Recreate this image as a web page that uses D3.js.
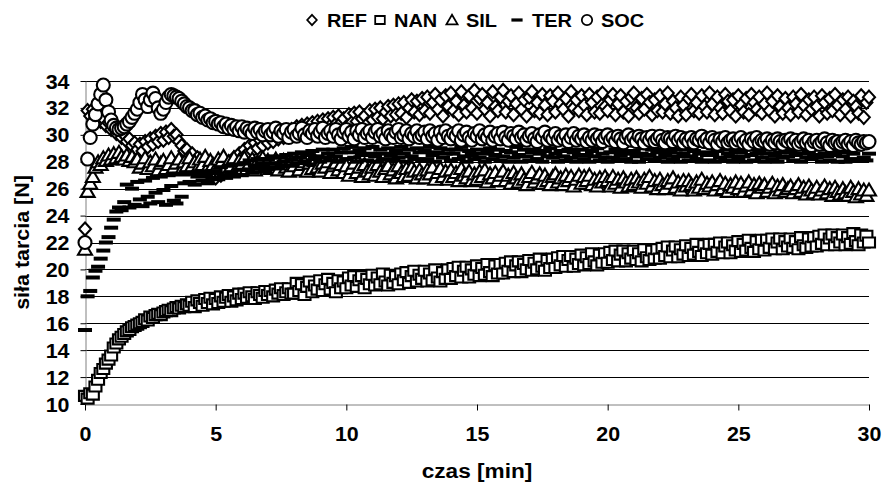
<!DOCTYPE html>
<html>
<head>
<meta charset="utf-8">
<script src="https://cdn.jsdelivr.net/npm/d3@7"></script>
<style>
  body { margin: 0; background: #fff; }
  svg { display: block; }
  text { font-family: "Liberation Sans", Arial, sans-serif; font-weight: bold; fill: #000; }
</style>
</head>
<body>
<svg id="chart"></svg>
<script>
// Friction force vs time, five samples, one reading every 0.1 min (0..30 min).
// Values, one row per minute.

const T_STEP = 0.1; // min between readings

const REF = [
  23.0, 31.8, 31.4, 31.9, 31.3, 31.6, 31.0, 31.2, 30.7, 30.9,
  30.4, 30.6, 30.1, 30.3, 29.8, 30.0, 29.5, 29.7, 29.2, 29.4,
  28.9, 29.3, 28.8, 29.5, 29.1, 29.7, 29.3, 29.9, 29.5, 30.1,
  29.6, 30.2, 29.8, 30.4, 29.9, 30.0, 29.5, 29.2, 28.8, 28.9,
  28.4, 28.6, 28.0, 28.3, 27.6, 27.9, 27.3, 27.6, 27.0, 27.2,
  26.8, 27.4, 27.0, 27.7, 27.3, 28.0, 27.6, 28.3, 28.0, 28.6,
  28.3, 28.9, 28.6, 29.2, 28.8, 29.4, 29.0, 29.6, 29.2, 29.8,
  29.4, 29.9, 29.5, 30.1, 29.7, 30.2, 29.8, 30.3, 29.9, 30.4,
  30.0, 30.6, 30.1, 30.7, 30.2, 30.8, 30.3, 30.9, 30.4, 31.0,
  30.5, 31.1, 30.6, 31.2, 30.7, 31.3, 30.8, 31.4, 30.9, 31.2,
  30.6, 31.5, 30.9, 31.6, 31.0, 31.7, 31.2, 31.4, 30.8, 31.8,
  31.1, 31.9, 31.3, 32.0, 31.2, 31.7, 32.1, 31.4, 32.2, 31.5,
  32.3, 31.6, 32.4, 31.3, 32.0, 32.6, 31.7, 32.5, 31.5, 32.7,
  31.8, 32.8, 31.6, 32.4, 33.0, 31.9, 32.6, 31.4, 32.9, 32.1,
  33.1, 31.8, 32.5, 31.5, 33.2, 32.2, 31.7, 32.9, 32.0, 33.3,
  31.6, 32.7, 33.0, 31.9, 32.4, 31.4, 33.2, 32.1, 31.8, 32.8,
  33.3, 31.7, 32.5, 32.9, 31.5, 32.3, 33.1, 31.9, 32.6, 31.4,
  32.8, 33.2, 31.8, 32.4, 31.6, 33.0, 32.2, 31.5, 32.9, 32.5,
  31.7, 33.1, 32.3, 31.9, 32.7, 31.4, 33.2, 32.0, 32.6, 31.8,
  32.9, 32.2, 31.5, 33.0, 32.4, 31.7, 32.8, 31.6, 33.1, 32.1,
  31.8, 32.6, 33.0, 31.5, 32.3, 32.9, 31.7, 32.5, 31.4, 32.8,
  33.1, 32.0, 31.6, 32.7, 31.9, 33.0, 32.4, 31.5, 32.6, 31.8,
  32.9, 31.7, 32.3, 33.1, 31.6, 32.5, 32.0, 31.4, 32.8, 32.2,
  31.5, 32.7, 33.0, 31.8, 32.4, 31.6, 32.9, 32.1, 31.7, 33.1,
  32.3, 31.5, 32.8, 32.0, 31.6, 33.0, 32.5, 31.8, 32.6, 31.4,
  32.9, 32.2, 31.7, 32.7, 31.5, 33.0, 32.4, 31.9, 32.8, 31.6,
  32.3, 33.1, 31.8, 32.5, 31.4, 32.9, 32.1, 31.6, 32.7, 32.0,
  31.5, 32.8, 32.3, 31.7, 33.0, 32.2, 31.5, 32.6, 31.9, 32.8,
  32.1, 31.4, 32.9, 32.4, 31.6, 32.7, 31.8, 33.0, 32.2, 31.5,
  32.6, 31.9, 32.8, 31.4, 32.5, 32.1, 31.6, 32.9, 31.3, 32.4,
  32.8
];

const NAN = [
  10.6, 10.4, 10.8, 10.7, 11.3, 11.8, 12.3, 12.6, 13.0, 13.3,
  13.6, 14.2, 14.5, 14.8, 15.0, 15.2, 15.4, 15.5, 15.7, 15.8,
  15.9, 16.0, 16.1, 16.3, 16.2, 16.5, 16.4, 16.6, 16.7, 16.6,
  16.8, 16.9, 17.0, 16.9, 17.1, 17.2, 17.1, 17.3, 17.2, 17.4,
  17.3, 17.6, 17.2, 17.7, 17.5, 17.3, 17.8, 17.5, 17.9, 17.4,
  17.8, 17.5, 18.0, 17.6, 17.9, 18.1, 17.6, 18.0, 17.7, 18.2,
  17.8, 18.2, 17.9, 18.3, 18.0, 17.8, 18.3, 18.1, 17.9, 18.4,
  18.1, 18.4, 18.0, 18.5, 18.2, 18.6, 18.1, 18.3, 18.6, 18.2,
  18.2, 19.0, 18.4, 18.9, 18.1, 18.7, 19.1, 18.3, 18.8, 18.5,
  19.2, 18.4, 18.9, 19.3, 18.5, 19.0, 18.3, 19.2, 18.6, 19.1,
  18.6, 19.4, 18.8, 19.5, 18.7, 19.2, 19.5, 18.6, 19.3, 18.9,
  19.6, 18.8, 19.4, 18.9, 19.7, 19.1, 18.8, 19.6, 19.0, 19.5,
  18.9, 19.7, 19.2, 19.8, 19.0, 19.5, 19.9, 19.1, 19.6, 19.3,
  19.9, 19.1, 19.7, 19.2, 20.0, 19.4, 19.1, 19.8, 19.3, 20.0,
  19.3, 20.1, 19.5, 20.2, 19.4, 19.9, 20.2, 19.4, 20.0, 19.6,
  20.3, 19.5, 20.1, 19.6, 20.4, 19.8, 19.5, 20.3, 19.7, 20.4,
  19.7, 20.5, 19.9, 20.6, 19.8, 20.3, 20.6, 19.8, 20.4, 20.0,
  20.7, 19.9, 20.5, 20.0, 20.8, 20.2, 19.9, 20.7, 20.1, 20.8,
  20.1, 20.9, 20.3, 21.0, 20.2, 20.7, 21.0, 20.2, 20.8, 20.4,
  21.1, 20.3, 20.9, 20.4, 21.2, 20.6, 20.3, 21.1, 20.5, 21.2,
  20.5, 21.3, 20.7, 21.4, 20.6, 21.1, 21.4, 20.6, 21.2, 20.8,
  21.4, 20.7, 21.2, 20.6, 21.5, 20.9, 20.7, 21.4, 20.8, 21.5,
  20.8, 21.6, 21.0, 21.7, 20.9, 21.4, 21.7, 20.9, 21.5, 21.1,
  21.8, 21.0, 21.6, 21.1, 21.9, 21.3, 21.0, 21.8, 21.2, 21.9,
  21.1, 21.9, 21.3, 22.0, 21.2, 21.7, 22.0, 21.2, 21.8, 21.4,
  22.1, 21.3, 21.9, 21.4, 22.2, 21.6, 21.3, 22.1, 21.5, 22.2,
  21.4, 22.2, 21.6, 22.3, 21.5, 22.0, 22.3, 21.5, 22.1, 21.7,
  22.3, 21.6, 22.1, 21.5, 22.4, 21.8, 21.6, 22.3, 21.7, 22.4,
  21.7, 22.5, 21.9, 22.6, 21.8, 22.3, 22.6, 21.8, 22.4, 22.0,
  22.6, 21.8, 22.4, 21.9, 22.7, 22.1, 21.8, 22.6, 22.0, 22.5,
  22.0
];

const SIL = [
  21.5, 25.8, 26.4, 26.9, 27.6, 28.0, 27.8, 28.3, 28.1, 28.5,
  28.2, 28.6, 28.3, 28.7, 28.4, 28.2, 28.5, 28.1, 28.4, 28.0,
  28.2, 27.6, 27.9, 28.3, 27.5, 28.0, 27.7, 28.2, 27.4, 27.9,
  28.1, 27.5, 27.8, 28.3, 27.6, 27.9, 28.2, 27.4, 28.0, 27.7,
  28.3, 27.7, 28.0, 27.5, 28.2, 27.8, 28.4, 27.6, 28.1, 27.8,
  27.5, 28.2, 27.9, 28.4, 27.6, 28.0, 27.7, 28.3, 27.5, 28.1,
  27.8, 28.3, 27.5, 27.9, 28.2, 27.4, 28.0, 27.7, 28.3, 27.6,
  28.1, 27.5, 27.8, 28.2, 27.4, 27.9, 28.1, 27.6, 27.3, 28.0,
  27.7, 28.1, 27.4, 27.8, 28.0, 27.3, 27.9, 27.5, 28.1, 27.6,
  27.3, 27.9, 27.6, 28.0, 27.2, 27.7, 27.9, 27.4, 27.8, 27.2,
  27.7, 27.0, 27.5, 27.9, 27.2, 27.6, 26.9, 27.8, 27.3, 27.1,
  27.6, 27.0, 27.8, 27.3, 26.9, 27.5, 27.7, 27.1, 27.4, 26.8,
  27.7, 27.2, 26.9, 27.5, 27.0, 27.6, 27.3, 26.8, 27.4, 27.1,
  26.8, 27.4, 27.1, 27.6, 26.7, 27.2, 27.5, 26.9, 27.3, 26.7,
  27.4, 26.9, 27.2, 26.6, 27.5, 27.0, 26.8, 27.3, 26.6, 27.1,
  26.7, 27.3, 26.9, 27.4, 26.5, 27.1, 26.8, 27.2, 26.6, 27.0,
  27.3, 26.6, 27.0, 26.4, 27.2, 26.8, 26.5, 27.1, 26.7, 26.3,
  26.9, 27.2, 26.5, 26.8, 27.1, 26.4, 27.0, 26.6, 26.3, 26.9,
  27.1, 26.5, 26.8, 26.3, 27.0, 26.6, 26.9, 26.2, 26.7, 27.0,
  26.4, 26.9, 26.6, 27.0, 26.3, 26.7, 26.2, 26.8, 26.5, 26.9,
  26.6, 26.2, 26.9, 26.4, 26.7, 26.1, 26.8, 26.5, 26.2, 26.7,
  26.3, 26.8, 26.5, 26.1, 26.7, 26.4, 26.9, 26.2, 26.6, 26.0,
  26.7, 26.3, 26.0, 26.6, 26.4, 26.8, 26.1, 26.5, 25.9, 26.6,
  26.2, 26.6, 26.3, 25.9, 26.5, 26.1, 26.7, 26.0, 26.4, 26.2,
  26.5, 25.9, 26.3, 26.6, 26.0, 26.4, 25.8, 26.3, 26.1, 26.5,
  26.0, 26.4, 25.8, 26.2, 26.5, 25.9, 26.3, 25.7, 26.4, 26.1,
  26.3, 25.8, 26.1, 26.4, 25.7, 26.2, 25.9, 26.3, 25.8, 26.0,
  26.2, 25.7, 26.0, 26.3, 25.8, 26.1, 25.6, 26.2, 25.9, 25.7,
  26.1, 25.6, 25.9, 26.2, 25.7, 26.0, 25.5, 26.1, 25.8, 25.6,
  26.0, 25.7, 25.5, 26.1, 25.8, 25.4, 26.0, 25.6, 25.9, 25.5,
  25.9
];

const TER = [
  15.5, 18.0, 18.4, 19.4, 19.9, 20.2, 20.8, 21.4, 22.0, 22.4,
  23.1, 23.7, 24.3, 24.6, 24.4, 25.0, 26.3, 24.6, 26.0, 24.8,
  26.5, 25.2, 24.7, 26.6, 25.4, 24.9, 26.8, 25.7, 25.0, 26.9,
  25.9, 24.8, 27.0, 26.2, 25.1, 24.9, 27.1, 25.4, 26.4, 27.2,
  26.5, 27.1, 26.3, 26.9, 27.3, 26.6, 27.0, 26.4, 27.2, 26.8,
  27.3, 26.7, 27.6, 27.0, 26.8, 27.7, 27.2, 26.9, 27.8, 27.4,
  27.0, 27.9, 27.4, 28.1, 27.2, 27.7, 28.2, 27.5, 27.9, 27.3,
  28.2, 27.6, 28.4, 27.9, 27.5, 28.3, 28.0, 28.5, 27.7, 28.2,
  28.6, 27.9, 28.3, 28.7, 28.0, 28.5, 27.8, 28.8, 28.2, 28.4,
  28.0, 28.9, 28.3, 28.6, 28.1, 28.9, 28.4, 28.0, 28.7, 29.0,
  28.2, 28.7, 29.1, 28.3, 28.0, 28.8, 28.5, 29.0, 28.1, 28.6,
  29.1, 28.4, 28.0, 28.9, 28.6, 28.2, 29.0, 28.5, 28.1, 28.8,
  28.3, 29.1, 28.6, 28.0, 28.9, 28.4, 28.2, 29.0, 28.7, 28.1,
  28.8, 28.2, 29.1, 28.5, 28.0, 28.7, 29.0, 28.3, 28.6, 28.9,
  28.1, 28.6, 28.9, 28.2, 29.1, 28.4, 28.0, 28.8, 28.5, 28.2,
  28.9, 28.3, 28.6, 28.0, 28.8, 29.0, 28.2, 28.5, 28.9, 28.1,
  28.4, 28.8, 28.0, 28.7, 28.3, 29.1, 28.5, 28.0, 28.9, 28.4,
  28.1, 28.7, 28.9, 28.2, 28.6, 28.0, 28.8, 28.4, 29.0, 28.3,
  28.6, 28.0, 28.8, 28.4, 28.1, 28.9, 28.3, 28.7, 28.0, 28.5,
  28.9, 28.2, 28.5, 28.0, 28.8, 28.4, 29.0, 28.1, 28.6, 28.3,
  28.0, 28.7, 28.3, 28.9, 28.1, 28.5, 28.8, 28.2, 28.6, 28.0,
  28.8, 28.4, 28.0, 28.6, 29.0, 28.2, 28.5, 28.9, 28.1, 28.7,
  28.3, 28.9, 28.5, 28.0, 28.7, 28.2, 28.9, 28.4, 28.0, 28.6,
  28.9, 28.1, 28.4, 28.8, 28.2, 28.6, 28.0, 28.7, 28.5, 28.1,
  28.5, 28.0, 28.8, 28.3, 28.9, 28.1, 28.6, 28.4, 28.0, 28.8,
  28.2, 28.7, 28.4, 28.0, 28.9, 28.5, 28.1, 28.6, 28.8, 28.3,
  28.0, 28.6, 28.9, 28.2, 28.5, 28.0, 28.7, 28.3, 28.9, 28.4,
  28.7, 28.1, 28.5, 28.9, 28.0, 28.6, 28.3, 28.8, 28.2, 28.5,
  28.3, 28.9, 28.0, 28.6, 28.4, 28.1, 28.8, 28.5, 28.0, 28.7,
  28.4, 28.0, 28.8, 28.2, 28.6, 28.9, 28.1, 29.2, 28.3, 28.1,
  28.6
];

const SOC = [
  22.0, 28.2, 29.8, 30.8, 31.5, 32.3, 33.0, 33.7, 32.6, 31.7,
  31.1, 30.7, 30.5, 30.4, 30.5, 30.6, 30.8, 31.0, 31.3, 31.6,
  31.9, 32.4, 33.0, 32.6, 32.1, 32.6, 33.1, 32.7, 32.0, 31.6,
  31.9, 32.4, 32.8, 33.0, 32.9, 32.8, 32.7, 32.5, 32.3, 32.1,
  32.0, 31.8, 31.8, 31.5, 31.6, 31.3, 31.4, 31.1, 31.2, 30.9,
  31.0, 30.8, 30.9, 30.6, 30.8, 30.5, 30.7, 30.4, 30.6, 30.3,
  30.6, 30.2, 30.5, 30.3, 30.1, 30.5, 30.2, 30.4, 30.0, 30.3,
  30.4, 30.0, 30.2, 30.5, 29.9, 30.3, 30.1, 30.4, 29.8, 30.2,
  30.4, 29.9, 30.1, 30.5, 30.0, 29.8, 30.3, 30.1, 30.4, 29.9,
  30.2, 30.5, 29.8, 30.1, 30.3, 29.9, 30.4, 30.0, 29.7, 30.2,
  30.4, 29.9, 30.2, 29.7, 30.3, 30.0, 30.4, 29.8, 30.1, 30.3,
  29.8, 30.2, 30.4, 29.9, 30.1, 29.7, 30.3, 30.0, 29.8, 30.2,
  30.4, 29.8, 30.0, 30.3, 29.7, 30.1, 29.9, 30.3, 29.8, 30.0,
  30.2, 29.7, 30.3, 29.9, 30.1, 29.6, 30.2, 29.8, 30.3, 29.9,
  29.7, 30.1, 29.9, 30.3, 29.6, 30.0, 30.2, 29.8, 29.6, 30.1,
  29.9, 30.3, 29.7, 30.0, 29.8, 30.2, 29.6, 29.9, 30.1, 29.7,
  30.2, 29.8, 29.6, 30.1, 29.9, 29.7, 30.2, 29.8, 30.0, 29.6,
  29.9, 30.1, 29.7, 29.5, 30.0, 29.8, 30.2, 29.6, 29.9, 29.7,
  30.1, 29.6, 29.9, 29.7, 30.0, 29.5, 29.8, 30.1, 29.6, 29.9,
  29.7, 30.0, 29.5, 29.8, 29.6, 30.0, 29.7, 29.9, 29.5, 29.8,
  30.0, 29.6, 29.8, 29.5, 29.9, 29.7, 29.4, 29.8, 30.0, 29.6,
  29.8, 29.5, 29.9, 29.7, 29.4, 29.8, 29.6, 29.9, 29.5, 29.7,
  29.9, 29.6, 29.4, 29.8, 29.7, 29.5, 29.9, 29.6, 29.8, 29.4,
  29.7, 29.5, 29.8, 29.4, 29.7, 29.6, 29.9, 29.5, 29.7, 29.4,
  29.8, 29.6, 29.3, 29.7, 29.5, 29.8, 29.4, 29.6, 29.7, 29.4,
  29.6, 29.8, 29.4, 29.6, 29.3, 29.7, 29.5, 29.8, 29.4, 29.6,
  29.5, 29.7, 29.3, 29.6, 29.4, 29.7, 29.5, 29.3, 29.6, 29.5,
  29.7, 29.4, 29.6, 29.3, 29.5, 29.7, 29.4, 29.6, 29.2, 29.5,
  29.6, 29.3, 29.5, 29.7, 29.4, 29.2, 29.6, 29.4, 29.5, 29.3,
  29.5, 29.6, 29.3, 29.5, 29.2, 29.6, 29.4, 29.3, 29.5, 29.4,
  29.5
];

const SERIES_NAMES = ["REF", "NAN", "SIL", "TER", "SOC"];
const SERIES_VALUES = [REF, NAN, SIL, TER, SOC];
const Y_TICKS = [10, 12, 14, 16, 18, 20, 22, 24, 26, 28, 30, 32, 34];
const X_TICKS = [0, 5, 10, 15, 20, 25, 30];

(function () {
  const W = 882, H = 488;
  const M = { top: 81, right: 13, bottom: 84, left: 85 };
  const AXIS_GRAY = "#808080";
  const TXT_STRETCH = 1.1;   // the original lettering is a bit wider than Liberation Sans
  const FS = 19.5;

  // marker outlines, centred on 0,0
  const SHAPES = {
    REF: { d: "M0,-6.5L6,0L0,6.5L-6,0Z", fill: "#fff" },
    NAN: { d: "M-6,-5H6V5H-6Z", fill: "#fff" },
    SIL: { d: "M0,-6.5L7,5.5H-7Z", fill: "#fff" },
    TER: { d: "M-7,-2H7V2H-7Z", fill: "#000" },
    SOC: { d: "M-6.5,0A6.5,6.5 0 1,0 6.5,0A6.5,6.5 0 1,0 -6.5,0Z", fill: "#fff" }
  };

  const svg = d3.select("#chart").attr("width", W).attr("height", H);

  const x = d3.scaleLinear().domain([0, 30]).range([M.left, W - M.right]);
  const y = d3.scaleLinear().domain([10, 34]).range([H - M.bottom, M.top]);

  // horizontal gridlines
  svg.append("g")
    .selectAll("line").data(Y_TICKS.slice(1)).enter()
    .append("line")
    .attr("x1", x(0)).attr("x2", x(30))
    .attr("y1", d => Math.round(y(d)) + 0.5).attr("y2", d => Math.round(y(d)) + 0.5)
    .attr("stroke", "#000").attr("stroke-width", 1);

  // axes
  const yAxis = svg.append("g")
    .attr("transform", `translate(${M.left + 0.5},0)`)
    .call(d3.axisLeft(y).tickValues(Y_TICKS).tickSize(5).tickSizeOuter(0).tickPadding(0));
  const xAxis = svg.append("g")
    .attr("transform", `translate(0,${H - M.bottom + 0.5})`)
    .call(d3.axisBottom(x).tickValues(X_TICKS).tickSize(6).tickSizeOuter(0));

  [yAxis, xAxis].forEach(a => {
    a.select(".domain").attr("stroke", AXIS_GRAY);
    a.selectAll(".tick line").attr("stroke", "#000");
  });

  yAxis.selectAll(".tick text")
    .attr("x", 0).attr("dy", "0.36em")
    .attr("text-anchor", "end")
    .attr("transform", `translate(-16,0) scale(${TXT_STRETCH},1)`)
    .attr("font-size", FS).attr("font-family", null).attr("fill", "#000");

  xAxis.selectAll(".tick text")
    .attr("y", 0).attr("dy", null)
    .attr("transform", `translate(0,36) scale(${TXT_STRETCH},1)`)
    .attr("font-size", FS).attr("font-family", null).attr("fill", "#000");

  // data markers, series drawn in order so SOC ends on top
  SERIES_NAMES.forEach((name, si) => {
    const shape = SHAPES[name];
    svg.append("g")
      .selectAll("path").data(SERIES_VALUES[si]).enter()
      .append("path")
      .attr("d", shape.d)
      .attr("transform", (v, i) => `translate(${x(i * T_STEP)},${y(v)})`)
      .attr("fill", shape.fill)
      .attr("stroke", name === "TER" ? "none" : "#000")
      .attr("stroke-width", 2.1);
  });

  // axis titles
  svg.append("text")
    .attr("transform", `translate(${(x(0) + x(30)) / 2},478) scale(1.16,1)`)
    .attr("text-anchor", "middle")
    .attr("font-size", FS)
    .text("czas [min]");

  svg.append("text")
    .attr("transform", `translate(29,${(y(10) + y(34)) / 2}) rotate(-90) scale(${TXT_STRETCH},1)`)
    .attr("text-anchor", "middle")
    .attr("font-size", FS)
    .text("siła tarcia [N]");

  // legend across the top
  const LEGEND_POS = [
    { mx: 312, tx: 327 }, { mx: 380, tx: 394 }, { mx: 452, tx: 466 },
    { mx: 517, tx: 532 }, { mx: 587, tx: 601 }
  ];
  const legend = svg.append("g");
  SERIES_NAMES.forEach((name, i) => {
    const p = LEGEND_POS[i];
    legend.append("path")
      .attr("d", SHAPES[name].d)
      .attr("transform", `translate(${p.mx},20) scale(0.8)`)
      .attr("fill", SHAPES[name].fill)
      .attr("stroke", name === "TER" ? "none" : "#000")
      .attr("stroke-width", 2.2);
    legend.append("text")
      .attr("transform", `translate(${p.tx},27) scale(1.05,1)`)
      .attr("font-size", 19)
      .text(name);
  });
})();
</script>
</body>
</html>
